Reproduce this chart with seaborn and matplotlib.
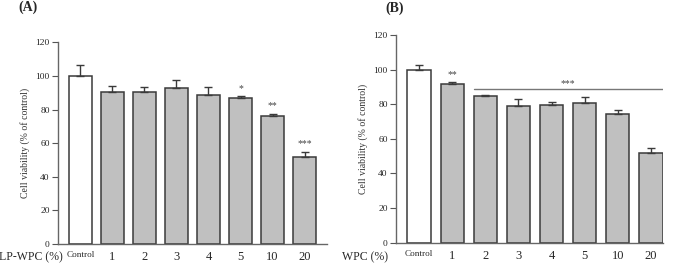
import matplotlib
matplotlib.use("Agg")
import matplotlib.pyplot as plt
import seaborn as sns
import pandas as pd
import numpy as np

# data
categories = ["Control", "1", "2", "3", "4", "5", "10", "20"]
lpwpc_mean = [100, 90.2, 90.2, 92.8, 88.6, 87.0, 76.2, 51.6]
lpwpc_err = [6.4, 4.0, 3.2, 4.6, 4.8, 1.0, 1.4, 3.4]
wpc_mean = [100, 91.7, 85.0, 79.0, 79.6, 80.8, 74.6, 52.1]
wpc_err = [2.7, 1.1, 0.4, 4.0, 1.6, 3.4, 1.9, 2.7]
lpwpc_stars = {"5": "*", "10": "**", "20": "***"}
wpc_stars = {"1": "**"}
y_ticks = [0, 20, 40, 60, 80, 100, 120]

sns.set_style("ticks")
plt.rcParams["font.family"] = ["Liberation Serif", "DejaVu Serif"]

W, H = 675, 264
fig = plt.figure(figsize=(W / 100, H / 100), dpi=100)
axA = fig.add_axes([0.0859, 0.0758, 0.3985, 0.764])
axB = fig.add_axes([0.5867, 0.0807, 0.3956, 0.7867])

bar_colors = ["white"] + ["#c0c0c0"] * 7


def draw_panel(ax, means, errs, stars, xlim):
    df = pd.DataFrame({"dose": categories, "viability": means, "err": errs})
    sns.barplot(data=df, x="dose", y="viability", hue="dose", order=categories,
                hue_order=categories, palette=bar_colors, legend=False,
                width=0.71, edgecolor="#3a3a3a", linewidth=1.1, ax=ax)
    pos = np.arange(len(categories))
    ax.errorbar(pos, df["viability"], yerr=[np.zeros(len(errs)), df["err"]],
                fmt="none", ecolor="#3a3a3a", elinewidth=1.0, capsize=3,
                capthick=1.0)
    for cat, s in stars.items():
        i = categories.index(cat)
        ax.text(i, means[i] + errs[i] + 1.8, s, ha="center", va="bottom",
                fontsize=7, color="#444444")
    ax.set_ylim(0, 120)
    ax.set_xlim(*xlim)
    ax.set_yticks(y_ticks)
    ax.tick_params(axis="y", labelsize=6.8, length=4.5, width=0.8,
                   color="#555555", pad=1.5)
    ax.tick_params(axis="x", length=0, pad=5)
    ax.set_xticks(pos)
    ax.set_xticklabels(categories)
    for lab in ax.get_xticklabels():
        lab.set_fontsize(6.6 if lab.get_text() == "Control" else 9)
    ax.set_ylabel("Cell viability (% of control)", fontsize=7, labelpad=4,
                  color="#333333")
    ax.set_xlabel("")
    for side in ["top", "right"]:
        ax.spines[side].set_visible(False)
    for side in ["left", "bottom"]:
        ax.spines[side].set_color("#666666")
        ax.spines[side].set_linewidth(1.0)


draw_panel(axA, lpwpc_mean, lpwpc_err, lpwpc_stars, (-0.7, 7.7))
draw_panel(axB, wpc_mean, wpc_err, wpc_stars, (-0.7, 7.37))

# significance line for WPC 2-20
axB.plot([1.65, 7.37], [88.8, 88.8], color="#777777", linewidth=1.0)
axB.text(4.5, 89.4, "***", ha="center", va="bottom", fontsize=7,
         color="#444444")

# x-axis names to the left of the tick labels
fig.text(63 / W, 1 - 257 / H, "LP-WPC (%)", fontsize=8.5, ha="right",
         va="center")
fig.text(388 / W, 1 - 257 / H, "WPC (%)", fontsize=8.5, ha="right",
         va="center")

fig.text(18 / W, 1 - 7 / H, "(A)", fontsize=10, fontweight="bold",
         ha="left", va="center")
fig.text(385 / W, 1 - 8 / H, "(B)", fontsize=10, fontweight="bold",
         ha="left", va="center")

fig.savefig("out.png", dpi=100)
